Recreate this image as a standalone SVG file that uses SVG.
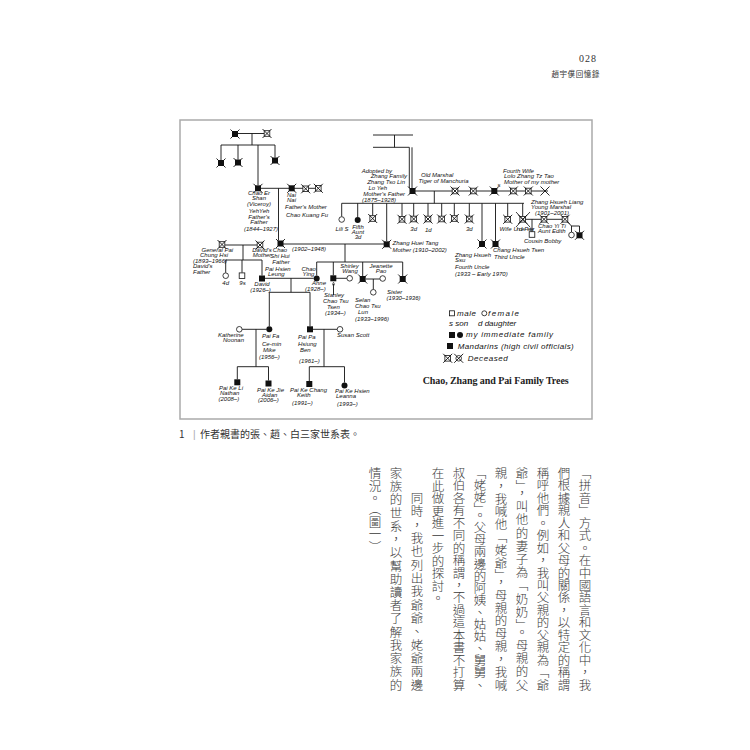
<svg xmlns="http://www.w3.org/2000/svg" width="750" height="750" viewBox="0 0 750 750">
<style>
.t{font-family:"Liberation Sans",Arial,sans-serif;font-style:italic;font-size:6px;fill:#111}
.c{text-anchor:middle}
.e{text-anchor:end}
.l{stroke:#111;stroke-width:0.9;fill:none}
.v{font-family:"Noto Sans CJK TC","Noto Sans CJK SC",sans-serif;font-size:12.5px;font-weight:300;fill:#3a3a3a;writing-mode:vertical-rl}
.cap{font-family:"Noto Sans CJK TC","Noto Sans CJK SC",sans-serif;font-size:10px;fill:#333}
.lg{font-family:"Liberation Sans",Arial,sans-serif;font-style:italic;font-size:8px;fill:#111}
</style>
<defs>
<g id="fs"><rect x="-3" y="-3" width="6" height="6" fill="#111"/></g>
<g id="os"><rect x="-2.8" y="-2.8" width="5.6" height="5.6" fill="#fff" stroke="#111" stroke-width="0.8"/></g>
<g id="fc"><circle r="3" fill="#111"/></g>
<g id="oc"><circle r="2.8" fill="#fff" stroke="#111" stroke-width="0.8"/></g>
<path id="x" d="M-4.5,-4.5 L4.5,4.5 M4.5,-4.5 L-4.5,4.5" stroke="#111" stroke-width="0.9" fill="none"/>
<g id="fsx"><use href="#fs"/><use href="#x"/></g>
<g id="osx"><use href="#os"/><use href="#x"/></g>
<marker id="ah" viewBox="0 0 6 6" refX="3" refY="3" markerWidth="4" markerHeight="4" orient="auto"><path d="M0,0 L6,3 L0,6" fill="none" stroke="#111" stroke-width="1"/></marker>
</defs>
<rect width="750" height="750" fill="#fff"/>

<!-- page header -->
<text x="588" y="62" font-family="Liberation Serif,serif" font-size="10" fill="#333" text-anchor="middle" letter-spacing="1">028</text>
<text x="600" y="77" font-family="Noto Sans CJK TC,sans-serif" font-size="7.5" fill="#333" text-anchor="end" letter-spacing="0.6">趙宇僕回憶錄</text>

<!-- figure frame -->
<rect x="180" y="120" width="412" height="299" fill="#fff" stroke="#aaa" stroke-width="1.5"/>

<g id="connectors" class="l">
<path d="M238,133.5 H264 M252,133.5 V145 M221,145 H275 M221,145 V160 M238,145 V159.5 M275,145 V157.5 M258,145 V185"/>
<path d="M258,188.3 H320 M278.5,188.3 V240.5"/>
<path d="M225,245 H257 M243,245 V260 M225.7,260 H262 M225.7,260 V272.7 M242,260 V272.7 M262,260 V275.5"/>
<path d="M373,135 H413 M394.5,135 V147.3 M373,147.3 H409.3 M409.3,147.3 V188 M412,147.3 V188"/>
<path d="M412.5,191 H548 M434.3,191 V203.3 M341.7,203.3 H524"/>
<path d="M341.7,203.3 V216.5 M357.7,203.3 V217 M372.7,203.3 V215.7 M386.7,203.3 V241 M402,203.3 V216.5 M413.7,203.3 V216.2 M428,203.3 V216.2 M441.7,203.3 V216.2 M454.3,203.3 V215.7 M469.3,203.3 V216.2 M482,203.3 V241 M495.5,203.3 V241 M507.7,203.3 V216.5 M522.7,203.3 V216.2"/>
<path d="M522.7,219.3 H565 M532,219.3 V232 M565,219.3 L571.5,226 H579.5 M571.5,226 V232.2 M579.5,226 V232.3"/>
<path d="M283,244 H384 M345,244 V262 M316.7,262 H402.7 M316.7,262 V275.5 M333.3,262 V275.3 M362.7,262 V276 M402.7,262 V276"/>
<path d="M336,278.3 H346.9 M366,279 H379.9 M373.3,279 V289.5"/>
<path d="M333.5,295 V284" marker-end="url(#ah)"/>
<path d="M265,278.3 H313.7 M291,278.3 V292.3 M269.3,292.3 H310 M269.3,292.3 V326.3 M310,292.3 V326.3"/>
<path d="M242.1,329.3 H266.3 M256,329.3 V366.7 M237.3,366.7 H268.5 M237.3,366.7 V379.3 M268.5,366.7 V380.5"/>
<path d="M313,329.3 H337.2 M324,329.3 V366.7 M309.3,366.7 H344.5 M309.3,366.7 V381 M344.5,366.7 V382.5"/>
</g>

<!-- Chao ancestors -->
<g id="n-gg1"><use href="#fsx" x="235" y="134"/></g>
<g id="n-gg2"><use href="#osx" x="267" y="133.5"/></g>
<g id="n-ga1"><use href="#fsx" x="221" y="163"/></g>
<g id="n-ga2"><use href="#fsx" x="238" y="162.5"/></g>
<g id="n-ga3"><use href="#fsx" x="275" y="160.5"/></g>
<g id="n-chao-er-shan"><use href="#fsx" x="258" y="188.3"/>
<text class="t c"><tspan x="259" y="195.3">Chao Er</tspan><tspan x="259" y="200.3">Shan</tspan><tspan x="259" y="206">(Viceroy)</tspan><tspan x="259" y="212.5">YehYeh</tspan><tspan x="259" y="218.5">Father's</tspan><tspan x="259" y="224">Father</tspan><tspan x="261" y="231">(1844–1927)</tspan></text></g>
<g id="n-nai-nai"><use href="#fsx" x="291.7" y="188.3"/>
<text class="t c" font-size="4.5"><tspan x="291.5" y="197">Nai</tspan><tspan x="291.5" y="201.8">Nai</tspan></text>
<text class="t" font-size="6.5"><tspan x="285" y="209">Father's Mother</tspan><tspan x="286" y="216.5">Chao Kuang Fu</tspan></text></g>
<g id="n-w2"><use href="#osx" x="305.7" y="188.8"/></g>
<g id="n-w3"><use href="#osx" x="318.3" y="188.3"/></g>
<g id="n-chao-shi-hui"><use href="#fsx" x="280.5" y="243.5"/>
<text class="t c"><tspan x="280" y="252.3">Chao</tspan><tspan x="280" y="257.8">Shi Hui</tspan><tspan x="281" y="263.5">Father</tspan></text><text class="t" x="292" y="250.5">(1902–1948)</text></g>

<!-- Pai family -->
<g id="n-general-pai"><use href="#osx" x="222" y="244.5"/>
<text class="t"><tspan x="201.5" y="252">General Pai</tspan><tspan x="200" y="257.2">Chung Hsi</tspan><tspan x="193" y="262.5">(1893–1966)</tspan><tspan x="193" y="268.3">David's</tspan><tspan x="193" y="274">Father</tspan></text></g>
<g id="n-davids-mother"><use href="#osx" x="260" y="245"/>
<text class="t c" font-size="5"><tspan x="262" y="252">David's</tspan><tspan x="262" y="257">Mother</tspan></text></g>
<g id="n-pai-daughters"><use href="#oc" x="225.7" y="275.7"/><text class="t c" x="225.7" y="285">4d</text></g>
<g id="n-pai-sons"><use href="#os" x="242" y="275.7"/><text class="t c" x="242.5" y="285">9s</text></g>
<g id="n-david"><use href="#fs" x="262" y="278.5"/>
<text class="t"><tspan x="265" y="271">Pai Hsien</tspan><tspan x="268" y="276">Leung</tspan></text><text class="t c"><tspan x="262" y="286">David</tspan><tspan x="260.5" y="291.5">(1926–)</tspan></text></g>

<!-- Zhang family -->
<g id="n-old-marshal"><use href="#fsx" x="412.5" y="191"/>
<text class="t e"><tspan x="392" y="172.5">Adopted by</tspan><tspan x="407" y="178.2">Zhang Family</tspan><tspan x="405" y="184">Zhang Tso Lin</tspan><tspan x="387" y="189.6">Lo Yeh</tspan><tspan x="405" y="195.5">Mother's Father</tspan><tspan x="396" y="201.5">(1875–1928)</tspan></text>
<text class="t"><tspan x="421" y="177">Old Marshal</tspan><tspan x="418.5" y="183">Tiger of Manchuria</tspan></text></g>
<g id="n-zw1"><use href="#osx" x="455" y="191"/></g>
<g id="n-zw2"><use href="#osx" x="473.3" y="191"/></g>
<g id="n-fourth-wife"><use href="#fsx" x="494.3" y="191"/><text class="t" x="497.5" y="187" font-size="5">s</text>
<text class="t"><tspan x="503" y="172.5">Fourth Wife</tspan><tspan x="504" y="178.2">Lolo Zhang Tz Tao</tspan><tspan x="504" y="183.8">Mother of my mother</tspan></text></g>
<g id="n-zw5"><use href="#osx" x="513.3" y="191"/></g>
<g id="n-zw6"><use href="#osx" x="528.3" y="191"/></g>
<g id="n-zw7"><use href="#x" x="545" y="191"/></g>

<g id="n-lili"><use href="#oc" x="341.7" y="219.5"/><text class="t c" x="342" y="230.5">Lili S</text></g>
<g id="n-fifth-aunt"><use href="#fc" x="357.7" y="220"/><text class="t c"><tspan x="358" y="228.8">Fifth</tspan><tspan x="358" y="233.8">Aunt</tspan><tspan x="358" y="239">3d</tspan></text></g>
<g id="n-zc3"><use href="#osx" x="372.7" y="218.5"/></g>
<g id="n-zhang-hui-tang"><use href="#fsx" x="386.7" y="244.3"/><text class="t"><tspan x="392.5" y="244.5">Zhang Huei Tang</tspan><tspan x="392.5" y="251.5">Mother (1910–2002)</tspan></text></g>
<g id="n-zc5"><use href="#osx" x="402" y="219.3"/></g>
<g id="n-zc6"><use href="#osx" x="413.7" y="219"/><text class="t c" x="413.7" y="231">3d</text></g>
<g id="n-zc7"><use href="#osx" x="428" y="219"/><text class="t c" x="428.3" y="231.5">1d</text></g>
<g id="n-zc8"><use href="#osx" x="441.7" y="219"/></g>
<g id="n-zc9"><use href="#osx" x="454.3" y="218.5"/></g>
<g id="n-zc10"><use href="#osx" x="469.3" y="219"/><text class="t c" x="469.3" y="231">3d</text></g>
<g id="n-fourth-uncle"><use href="#fsx" x="482" y="244"/><text class="t"><tspan x="455" y="257">Zhang Hsueh</tspan><tspan x="455" y="262">Ssu</tspan><tspan x="455" y="269">Fourth Uncle</tspan><tspan x="455" y="276">(1933 – Early 1970)</tspan></text></g>
<g id="n-third-uncle"><use href="#fsx" x="495.5" y="244"/><text class="t"><tspan x="493" y="252">Chang Hsueh Tsen</tspan><tspan x="494" y="258.5">Third Uncle</tspan></text></g>
<g id="n-wife"><use href="#osx" x="507.7" y="219.3"/><text class="t c" x="505.5" y="230.5" font-size="5.5">Wife</text></g>
<g id="n-uncle-peter"><use href="#osx" x="522.7" y="219.3"/><path d="M516,212 L530,227 M530,212 L516,227" stroke="#111" stroke-width="0.8"/><text class="t" x="513.5" y="230.5" font-size="5" textLength="21">Uncle Peter</text>
<text class="t"><tspan x="531" y="203.8">Zhang Hsueh Liang</tspan><tspan x="531" y="209.3">Young Marshal</tspan><tspan x="535" y="214.6">(1901–2001)</tspan></text></g>
<g id="n-yw1"><use href="#osx" x="544" y="219.3"/></g>
<g id="n-aunt-edith"><use href="#osx" x="565" y="219.3"/><text class="t"><tspan x="538" y="227.8">Chao Yi Ti</tspan><tspan x="538" y="233.2">Aunt Edith</tspan></text></g>
<g id="n-cousin-bobby"><use href="#os" x="532" y="234.5"/><text class="t" x="524" y="243">Cousin Bobby</text></g>
<g id="n-yc1"><use href="#oc" x="571.5" y="235"/></g>
<g id="n-yc2"><use href="#fsx" x="579.5" y="235.3"/></g>

<!-- Chao children -->
<g id="n-chao-ying"><use href="#fc" x="316.7" y="278.5"/><text class="t"><tspan x="301.5" y="271.3">Chao</tspan><tspan x="302.5" y="276.2">Ying</tspan></text><text class="t"><tspan x="312" y="285">Anne</tspan><tspan x="305" y="291">(1928–)</tspan></text></g>
<g id="n-stanley"><use href="#fs" x="333.3" y="278.3"/><text class="t"><tspan x="324" y="297">Stanley</tspan><tspan x="323" y="303">Chao Tsu</tspan><tspan x="327" y="308.5">Tsen</tspan><tspan x="325" y="315">(1934–)</tspan></text></g>
<g id="n-stanley-wife"><use href="#oc" x="349.7" y="278.3"/><text class="t c" font-size="4.5"><tspan x="349.5" y="267.8">Shirley</tspan><tspan x="350" y="272.6">Wang</tspan></text></g>
<g id="n-selan"><use href="#fsx" x="362.7" y="279"/><text class="t"><tspan x="355" y="302">Selan</tspan><tspan x="355" y="307.6">Chao Tsu</tspan><tspan x="358" y="313.5">Lun</tspan><tspan x="355" y="321">(1933–1996)</tspan></text></g>
<g id="n-selan-wife"><use href="#oc" x="382.7" y="278.5"/><text class="t c" font-size="4.5"><tspan x="381" y="267.8">Jeanette</tspan><tspan x="381" y="272.6">Pao</tspan></text></g>
<g id="n-selan-d"><use href="#oc" x="373.3" y="292.3"/></g>
<g id="n-sister"><use href="#fsx" x="402.7" y="279"/><text class="t"><tspan x="387" y="293.5">Sister</tspan><tspan x="386.5" y="300">(1930–1936)</tspan></text></g>

<!-- Pai descendants -->
<g id="n-katherine"><use href="#oc" x="239.3" y="329.3"/><text class="t"><tspan x="218" y="337">Katherine</tspan><tspan x="223" y="342.2">Noonan</tspan></text></g>
<g id="n-mike"><use href="#fc" x="269.3" y="329.3"/><text class="t"><tspan x="262" y="338">Pai Fa</tspan><tspan x="262" y="345.5">Ce-min</tspan><tspan x="263" y="352">Mike</tspan><tspan x="259" y="359">(1956–)</tspan></text></g>
<g id="n-ben"><use href="#fs" x="310" y="329.3"/><text class="t"><tspan x="298" y="338.5">Pai Pa</tspan><tspan x="298" y="345.5">Hsiung</tspan><tspan x="300" y="352">Ben</tspan><tspan x="299" y="363">(1961–)</tspan></text></g>
<g id="n-susan"><use href="#oc" x="340" y="329.3"/><text class="t" x="337" y="336.5">Susan Scott</text></g>
<g id="n-nathan"><use href="#fs" x="237.3" y="382.3"/><text class="t"><tspan x="219" y="389.5">Pai Ke Li</tspan><tspan x="220" y="394.8">Nathan</tspan><tspan x="218.5" y="400.8">(2008–)</tspan></text></g>
<g id="n-aidan"><use href="#fs" x="268.5" y="383.5"/><text class="t"><tspan x="257" y="391.5">Pai Ke Jie</tspan><tspan x="262" y="396.8">Aidan</tspan><tspan x="258" y="402.3">(2006–)</tspan></text></g>
<g id="n-keith"><use href="#fs" x="309.3" y="384"/><text class="t"><tspan x="290" y="391.5">Pai Ke Chang</tspan><tspan x="297" y="396.8">Keith</tspan><tspan x="292" y="404.5">(1991–)</tspan></text></g>
<g id="n-leanna"><use href="#fc" x="344.5" y="385.5"/><text class="t"><tspan x="335" y="392.5">Pai Ke Hsien</tspan><tspan x="336" y="398">Leanna</tspan><tspan x="337" y="405.5">(1993–)</tspan></text></g>

<!-- legend -->
<g id="legend">
<rect x="449.5" y="310.8" width="5" height="5" fill="#fff" stroke="#111" stroke-width="0.8"/>
<text class="lg" x="457" y="316" textLength="19">male</text>
<circle cx="484.3" cy="313.3" r="2.5" fill="#fff" stroke="#111" stroke-width="0.8"/>
<text class="lg" x="488" y="316" textLength="31">female</text>
<text class="lg" x="449" y="326"><tspan>s son</tspan><tspan x="478">d daughter</tspan></text>
<use href="#fs" x="452" y="335"/><use href="#fc" x="460" y="335"/>
<text class="lg" x="466" y="337" textLength="87">my immediate family</text>
<use href="#fs" x="450" y="346"/>
<text class="lg" x="457.7" y="348.5" textLength="116">Mandarins (high civil officials)</text>
<use href="#osx" x="447.7" y="358.3"/>
<circle cx="458.7" cy="358.3" r="2.8" fill="#fff" stroke="#111" stroke-width="0.8"/><use href="#x" x="458.7" y="358.3"/>
<text class="lg" x="467.7" y="361" textLength="40">Deceased</text>
</g>
<text x="422.7" y="384" font-family="Liberation Serif,serif" font-weight="bold" font-size="10" fill="#222" textLength="146">Chao, Zhang and Pai Family Trees</text>

<!-- caption -->
<text class="cap" x="179" y="438">1</text>
<text x="193" y="438" font-family="Liberation Sans,sans-serif" font-size="10" fill="#aaa">|</text>
<text class="cap" x="200" y="438">作者親書的張、趙、白三家世系表。</text>

<!-- body text (vertical) -->
<text class="v" x="585" y="467" textLength="224" lengthAdjust="spacing">「拼音」方式。在中國語言和文化中，我</text>
<text class="v" x="564" y="467" textLength="224" lengthAdjust="spacing">們根據親人和父母的關係，以特定的稱謂</text>
<text class="v" x="543" y="467" textLength="224" lengthAdjust="spacing">稱呼他們。例如，我叫父親的父親為「爺</text>
<text class="v" x="522" y="467" textLength="224" lengthAdjust="spacing">爺」，叫他的妻子為「奶奶」。母親的父</text>
<text class="v" x="501" y="467" textLength="224" lengthAdjust="spacing">親，我喊他「姥爺」，母親的母親，我喊</text>
<text class="v" x="480" y="467" textLength="224" lengthAdjust="spacing">「姥姥」。父母兩邊的阿姨、姑姑、舅舅、</text>
<text class="v" x="459" y="467" textLength="224" lengthAdjust="spacing">叔伯各有不同的稱謂，不過這本書不打算</text>
<text class="v" x="438" y="467">在此做更進一步的探討。</text>
<text class="v" x="417" y="492" textLength="199" lengthAdjust="spacing">同時，我也列出我爺爺、姥爺兩邊</text>
<text class="v" x="396" y="467" textLength="224" lengthAdjust="spacing">家族的世系，以幫助讀者了解我家族的</text>
<text class="v" x="375" y="467">情況。</text>
<text class="v" x="375" y="503" font-size="8">（圖一）</text>
</svg>
